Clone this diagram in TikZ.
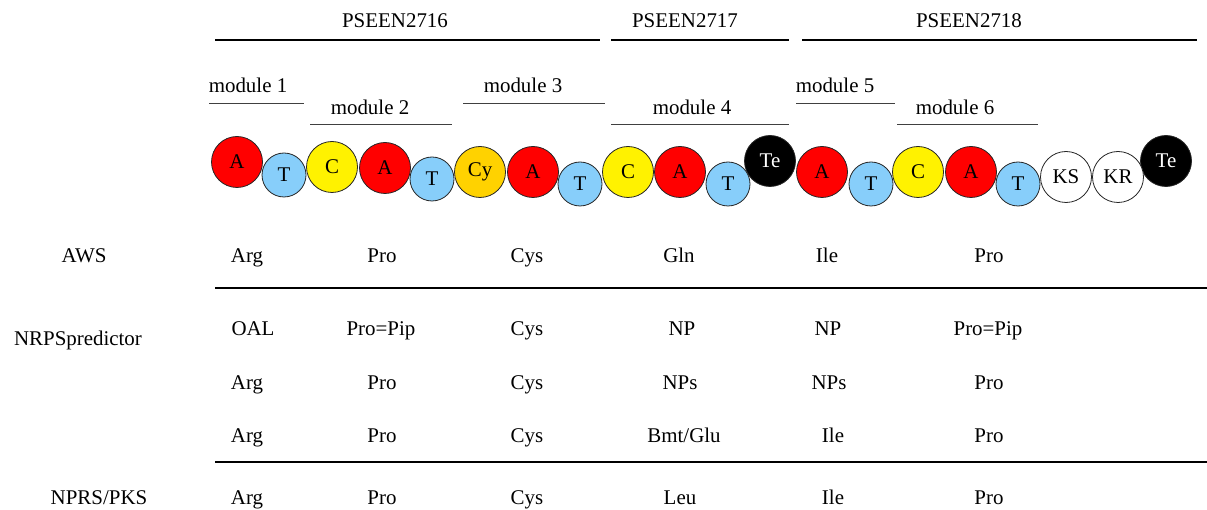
\documentclass[tikz,border=0pt]{standalone}
\usepackage{fontspec}
\setmainfont{Liberation Serif}
\definecolor{tblue}{RGB}{135,206,250}
\definecolor{cygold}{RGB}{255,210,0}
\begin{document}
\begin{tikzpicture}[x=1bp,y=-1bp,
  txt/.style={font=\fontsize{21}{24}\selectfont, anchor=base, inner sep=0pt},
  dom/.style={circle, draw=black!85, line width=0.8bp, minimum size=51bp, inner sep=0pt, font=\fontsize{21}{24}\selectfont},
  tdom/.style={dom, fill=tblue, minimum size=44bp},
  adom/.style={dom, fill=red},
  cdom/.style={dom, fill=yellow},
  tedom/.style={dom, fill=black, text=white},
  wdom/.style={dom, fill=white},
  genline/.style={line width=1.6bp},
  modline/.style={line width=0.9bp, draw=black!75},
  sepline/.style={line width=1.6bp}]
\useasboundingbox (0,0) rectangle (1207,510);
% gene labels and lines
\node[txt] (g1) at (395,28) {PSEEN2716};
\node[txt] (g2) at (685,28) {PSEEN2717};
\node[txt] (g3) at (969,28) {PSEEN2718};
\draw[genline] (215,40) -- (600,40);
\draw[genline] (611,40) -- (789,40);
\draw[genline] (802,40) -- (1197,40);
% modules
\node[txt] (m1) at (248,93) {module 1};
\node[txt] (m2) at (370,115) {module 2};
\node[txt] (m3) at (523,93) {module 3};
\node[txt] (m4) at (692,115) {module 4};
\node[txt] (m5) at (835,93) {module 5};
\node[txt] (m6) at (955,115) {module 6};
\draw[modline] (209,103) -- (304,103);
\draw[modline] (310,124) -- (452,124);
\draw[modline] (463,103) -- (605,103);
\draw[modline] (611,124) -- (789,124);
\draw[modline] (796,103) -- (895,103);
\draw[modline] (897,124) -- (1038,124);
% domains
\node[tedom] (te1) at (770,161) {Te};
\node[tedom] (te2) at (1166,161) {Te};
\node[adom] (a1) at (237,162) {A};
\node[tdom] (t1) at (284,175) {T};
\node[cdom] (c1) at (332,167) {C};
\node[adom] (a2) at (385,168) {A};
\node[tdom] (t2) at (432,179) {T};
\node[dom, fill=cygold] (cy) at (480,172) {Cy};
\node[adom] (a3) at (533,172) {A};
\node[tdom] (t3) at (580,184) {T};
\node[cdom] (c2) at (628,172) {C};
\node[adom] (a4) at (680,172) {A};
\node[tdom] (t4) at (728,184) {T};
\node[adom] (a5) at (822,172) {A};
\node[tdom] (t5) at (871,184) {T};
\node[cdom] (c3) at (918,172) {C};
\node[adom] (a6) at (971,172) {A};
\node[tdom] (t6) at (1018,184) {T};
\node[wdom] (ks) at (1066,177) {KS};
\node[wdom] (kr) at (1118,177) {KR};
% table
\node[txt] (l1) at (84,263) {AWS};
\node[txt] (l2) at (78,346) {NRPSpredictor};
\node[txt] (l3) at (99,504) {NPRS/PKS};
% row AWS
\node[txt] (r1a) at (247,263) {Arg};
\node[txt] (r1b) at (382,263) {Pro};
\node[txt] (r1c) at (527,263) {Cys};
\node[txt] (r1d) at (679,263) {Gln};
\node[txt] (r1e) at (827,263) {Ile};
\node[txt] (r1f) at (989,263) {Pro};
\draw[sepline] (215,288) -- (1207,288);
% row 2
\node[txt] (r2a) at (253,336) {OAL};
\node[txt] (r2b) at (381,336) {Pro=Pip};
\node[txt] (r2c) at (527,336) {Cys};
\node[txt] (r2d) at (682,336) {NP};
\node[txt] (r2e) at (828,336) {NP};
\node[txt] (r2f) at (988,336) {Pro=Pip};
% row 3
\node[txt] (r3a) at (247,389) {Arg};
\node[txt] (r3b) at (382,389) {Pro};
\node[txt] (r3c) at (527,389) {Cys};
\node[txt] (r3d) at (680,389) {NPs};
\node[txt] (r3e) at (829,389) {NPs};
\node[txt] (r3f) at (989,389) {Pro};
% row 4
\node[txt] (r4a) at (247,442) {Arg};
\node[txt] (r4b) at (382,442) {Pro};
\node[txt] (r4c) at (527,442) {Cys};
\node[txt] (r4d) at (684,442) {Bmt/Glu};
\node[txt] (r4e) at (833,442) {Ile};
\node[txt] (r4f) at (989,442) {Pro};
\draw[sepline] (215,462) -- (1207,462);
% row 5
\node[txt] (r5a) at (247,504) {Arg};
\node[txt] (r5b) at (382,504) {Pro};
\node[txt] (r5c) at (527,504) {Cys};
\node[txt] (r5d) at (680,504) {Leu};
\node[txt] (r5e) at (833,504) {Ile};
\node[txt] (r5f) at (989,504) {Pro};
\end{tikzpicture}
\end{document}
